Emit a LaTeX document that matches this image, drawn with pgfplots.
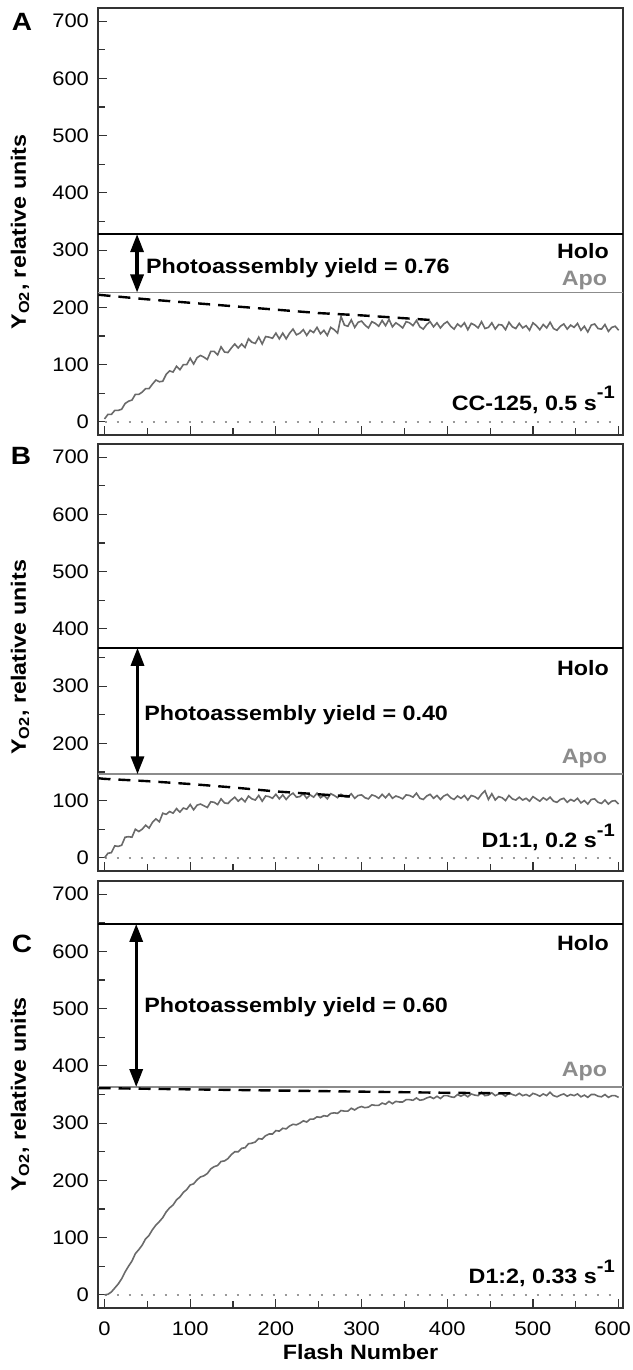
\documentclass[border=0pt]{standalone}
\usepackage{fontspec}
\setmainfont{Liberation Sans}[FakeStretch=1.12]
\usepackage{pgfplots}
\pgfplotsset{compat=1.18}
\usetikzlibrary{arrows.meta}
\definecolor{datagray}{HTML}{6A6A6A}
\definecolor{apogray}{HTML}{8C8C8C}
\definecolor{dotgray}{HTML}{9A9A9A}
\newcommand\lbl{\bfseries\fontsize{10.4pt}{12pt}\selectfont}
\newcommand\sups[1]{\raisebox{0.55em}{\fontsize{9pt}{10pt}\selectfont #1}}
\tikzset{ann/.style={inner sep=0pt, font=\lbl}}
\pgfplotsset{panel/.style={
  anchor=south west, width=262.5pt, height=213.5pt, scale only axis,
  xmin=-7.6, xmax=605.1, ymin=-23, ymax=723,
  xtick={0,100,...,600}, ytick={0,100,...,700}, minor tick num=1,
  tick align=inside, xtick pos=left, ytick pos=left,
  major tick length=4.5pt, minor tick length=3.5pt,
  axis line style={black!80, line width=0.7pt},
  every tick/.style={black!80, line width=0.6pt},
  /pgf/number format/assume math mode=true,
  tick label style={font=\fontsize{9.8pt}{11pt}\selectfont},
  yticklabel style={xshift=-1pt},
  xticklabel style={yshift=-3.5pt},
  every axis y label/.style={at={(axis description cs:-0.1486,0.5)}, rotate=90, anchor=center, font=\lbl},
  ylabel={Y\textsubscript{O2}, relative units},
  clip=false,
},
holo/.style={black, line width=1.1pt},
apo/.style={apogray, line width=0.9pt},
fitd/.style={black, line width=1.2pt, dash pattern=on 6pt off 4pt},
dat/.style={datagray, line width=0.8pt},
zero/.style={dotgray, line width=0.9pt, dash pattern=on 1pt off 5pt},
yarr/.style={black, line width=1.6pt, {Triangle[width=6.5pt,length=9pt]}-{Triangle[width=6.5pt,length=9pt]}},
}
\begin{document}
\begin{tikzpicture}
% ---------------- Panel A
\begin{axis}[panel, at={(49pt,-217.5pt)}, xticklabels={},
  every axis y label/.append style={at={(axis description cs:-0.1486,0.476)}}]
\addplot[zero] coordinates {(0,0)(600,0)};
\addplot[holo] coordinates {(-7.6,328)(605.1,328)};
\addplot[apo] coordinates {(-7.6,226)(605.1,226)};
\addplot[dat] coordinates {(0,5)(4,13)(8,13)(12,20)(16,20)(20,22)(24,32)(28,36)(32,38)(36,48)(40,48)(44,52)(48,58)(52,58)(56,66)(60,73)(64,70)(68,71)(72,83)(76,89)(80,87)(84,97)(88,91)(92,100)(96,100)(100,111)(104,101)(108,112)(112,116)(116,113)(120,109)(124,123)(128,123)(132,117)(136,131)(140,122)(144,121)(148,129)(152,136)(156,129)(160,136)(164,130)(168,145)(172,139)(176,137)(180,148)(184,136)(188,149)(192,148)(196,146)(200,155)(204,145)(208,155)(212,145)(216,155)(220,162)(224,152)(228,155)(232,161)(236,151)(240,160)(244,156)(248,165)(252,154)(256,160)(260,151)(264,165)(268,161)(272,155)(276,184)(280,169)(284,167)(288,178)(292,165)(296,174)(300,176)(304,169)(308,164)(312,175)(316,172)(320,167)(324,177)(328,168)(332,179)(336,166)(340,173)(344,169)(348,164)(352,175)(356,173)(360,168)(364,177)(368,166)(372,162)(376,170)(380,175)(384,166)(388,173)(392,164)(396,171)(400,175)(404,167)(408,162)(412,171)(416,166)(420,173)(424,161)(428,172)(432,169)(436,164)(440,175)(444,163)(448,165)(452,173)(456,162)(460,170)(464,169)(468,161)(472,174)(476,166)(480,163)(484,172)(488,164)(492,168)(496,160)(500,173)(504,168)(508,161)(512,170)(516,164)(520,174)(524,163)(528,160)(532,167)(536,171)(540,162)(544,169)(548,165)(552,172)(556,160)(560,167)(564,157)(568,169)(572,171)(576,163)(580,162)(584,170)(588,158)(592,165)(596,167)(600,160)};
\addplot[fitd] coordinates {(-7,222)(0,221)(50,214)(100,208)(150,202)(200,196)(250,190)(300,186)(340,182)(380,178)};
\addplot[yarr] coordinates {(38,328)(38,226)};
\node[ann, anchor=base west] at (axis cs:48,259) {Photoassembly yield = 0.76};
\node[ann, anchor=base east] at (axis cs:589,285) {Holo};
\node[ann, anchor=base east, text=apogray] at (axis cs:587,239) {Apo};
\node[ann, anchor=base east] at (axis cs:596,20) {CC-125, 0.5 s\sups{-1}};
\end{axis}
% ---------------- Panel B
\begin{axis}[panel, at={(49pt,-435.5pt)}, xticklabels={}]
\addplot[zero] coordinates {(0,0)(600,0)};
\addplot[holo] coordinates {(-7.6,367)(605.1,367)};
\addplot[apo] coordinates {(-7.6,146)(605.1,146)};
\addplot[dat] coordinates {(0,0)(4,8)(8,9)(12,21)(16,20)(20,22)(24,36)(28,37)(32,36)(36,50)(40,46)(44,50)(48,57)(52,52)(56,62)(60,68)(64,63)(68,78)(72,76)(76,81)(80,78)(84,86)(88,80)(92,87)(96,85)(100,93)(104,84)(108,92)(112,94)(116,91)(120,88)(124,98)(128,97)(132,93)(136,103)(140,96)(144,95)(148,101)(152,106)(156,99)(160,104)(164,98)(168,108)(172,103)(176,101)(180,109)(184,99)(188,108)(192,107)(196,104)(200,111)(204,103)(208,110)(212,102)(216,109)(220,113)(224,106)(228,107)(232,112)(236,104)(240,110)(244,106)(248,113)(252,105)(256,109)(260,103)(264,112)(268,109)(272,105)(276,111)(280,107)(284,106)(288,112)(292,104)(296,109)(300,110)(304,105)(308,103)(312,110)(316,108)(320,104)(324,111)(328,105)(332,112)(336,104)(340,108)(344,106)(348,103)(352,110)(356,109)(360,106)(364,113)(368,104)(372,102)(376,108)(380,111)(384,104)(388,109)(392,102)(396,108)(400,111)(404,105)(408,102)(412,108)(416,104)(420,109)(424,101)(428,109)(432,107)(436,103)(440,111)(444,117)(448,102)(452,112)(456,101)(460,107)(464,105)(468,100)(472,109)(476,103)(480,101)(484,106)(488,101)(492,104)(496,99)(500,107)(504,103)(508,99)(512,105)(516,101)(520,106)(524,99)(528,97)(532,102)(536,104)(540,97)(544,102)(548,99)(552,104)(556,96)(560,100)(564,94)(568,102)(572,103)(576,97)(580,95)(584,101)(588,94)(592,99)(596,100)(600,94)};
\addplot[fitd] coordinates {(-7,139)(0,138)(50,134)(100,129)(150,123)(200,116)(250,111)(290,107)};
\addplot[yarr] coordinates {(38.5,367)(38.5,146)};
\node[ann, anchor=base west] at (axis cs:46,240) {Photoassembly yield = 0.40};
\node[ann, anchor=base east] at (axis cs:589,318) {Holo};
\node[ann, anchor=base east, text=apogray] at (axis cs:587,164) {Apo};
\node[ann, anchor=base east] at (axis cs:596,17.5) {D1:1, 0.2 s\sups{-1}};
\end{axis}
% ---------------- Panel C
\begin{axis}[panel, at={(49pt,-654pt)}, xlabel={Flash Number},
  xticklabels={0,100,200,300,400,500,{\kern-6pt 600}},
  every axis x label/.style={at={(axis description cs:0.5,0)}, anchor=base, yshift=-25.5pt, font=\lbl}]
\addplot[zero] coordinates {(0,0)(600,0)};
\addplot[holo] coordinates {(-7.6,648)(605.1,648)};
\addplot[apo] coordinates {(-7.6,363)(605.1,363)};
\addplot[dat] coordinates {(0,0)(4,1)(8,5)(12,12)(16,19)(20,28)(24,40)(28,50)(32,59)(36,72)(40,79)(44,87)(48,98)(52,104)(56,114)(60,122)(64,128)(68,135)(72,145)(76,152)(80,157)(84,166)(88,171)(92,179)(96,184)(100,192)(104,194)(108,201)(112,206)(116,208)(120,212)(124,220)(128,224)(132,226)(136,233)(140,234)(144,238)(148,245)(152,250)(156,250)(160,256)(164,257)(168,264)(172,265)(176,267)(180,273)(184,272)(188,278)(192,281)(196,281)(200,287)(204,286)(208,291)(212,290)(216,295)(220,298)(224,297)(228,300)(232,304)(236,302)(240,307)(244,307)(248,311)(252,310)(256,313)(260,312)(264,317)(268,318)(272,317)(276,322)(280,321)(284,321)(288,326)(292,323)(296,327)(300,329)(304,327)(308,328)(312,332)(316,331)(320,331)(324,335)(328,333)(332,338)(336,334)(340,338)(344,337)(348,337)(352,341)(356,341)(360,340)(364,344)(368,340)(372,341)(376,344)(380,346)(384,343)(388,347)(392,343)(396,348)(400,348)(404,346)(408,345)(412,350)(416,347)(420,350)(424,346)(428,351)(432,349)(436,348)(440,354)(444,348)(448,349)(452,353)(456,348)(460,351)(464,351)(468,347)(472,353)(476,350)(480,348)(484,352)(488,348)(492,350)(496,347)(500,352)(504,350)(508,347)(512,351)(516,348)(520,354)(524,348)(528,346)(532,349)(536,351)(540,347)(544,350)(548,348)(552,351)(556,346)(560,349)(564,345)(568,350)(572,350)(576,347)(580,346)(584,350)(588,345)(592,348)(596,348)(600,345)};
\addplot[fitd] coordinates {(-7,361)(0,361)(100,359)(200,357)(300,355)(400,353)(480,352)};
\addplot[yarr] coordinates {(37,648)(37,363)};
\node[ann, anchor=base west] at (axis cs:46,494) {Photoassembly yield = 0.60};
\node[ann, anchor=base east] at (axis cs:589,602) {Holo};
\node[ann, anchor=base east, text=apogray] at (axis cs:587,382) {Apo};
\node[ann, anchor=base east] at (axis cs:596,19) {D1:2, 0.33 s\sups{-1}};
\end{axis}
\node[font=\bfseries\fontsize{12.5pt}{14pt}\selectfont] at (11pt,-10.75pt) {A};
\node[font=\bfseries\fontsize{12.5pt}{14pt}\selectfont] at (10.5pt,-228pt) {B};
\node[font=\bfseries\fontsize{12.5pt}{14pt}\selectfont] at (11pt,-471.75pt) {C};
\pgfresetboundingbox
\path[use as bounding box] (0,0) rectangle (316pt,-685pt);
\end{tikzpicture}
\end{document}
